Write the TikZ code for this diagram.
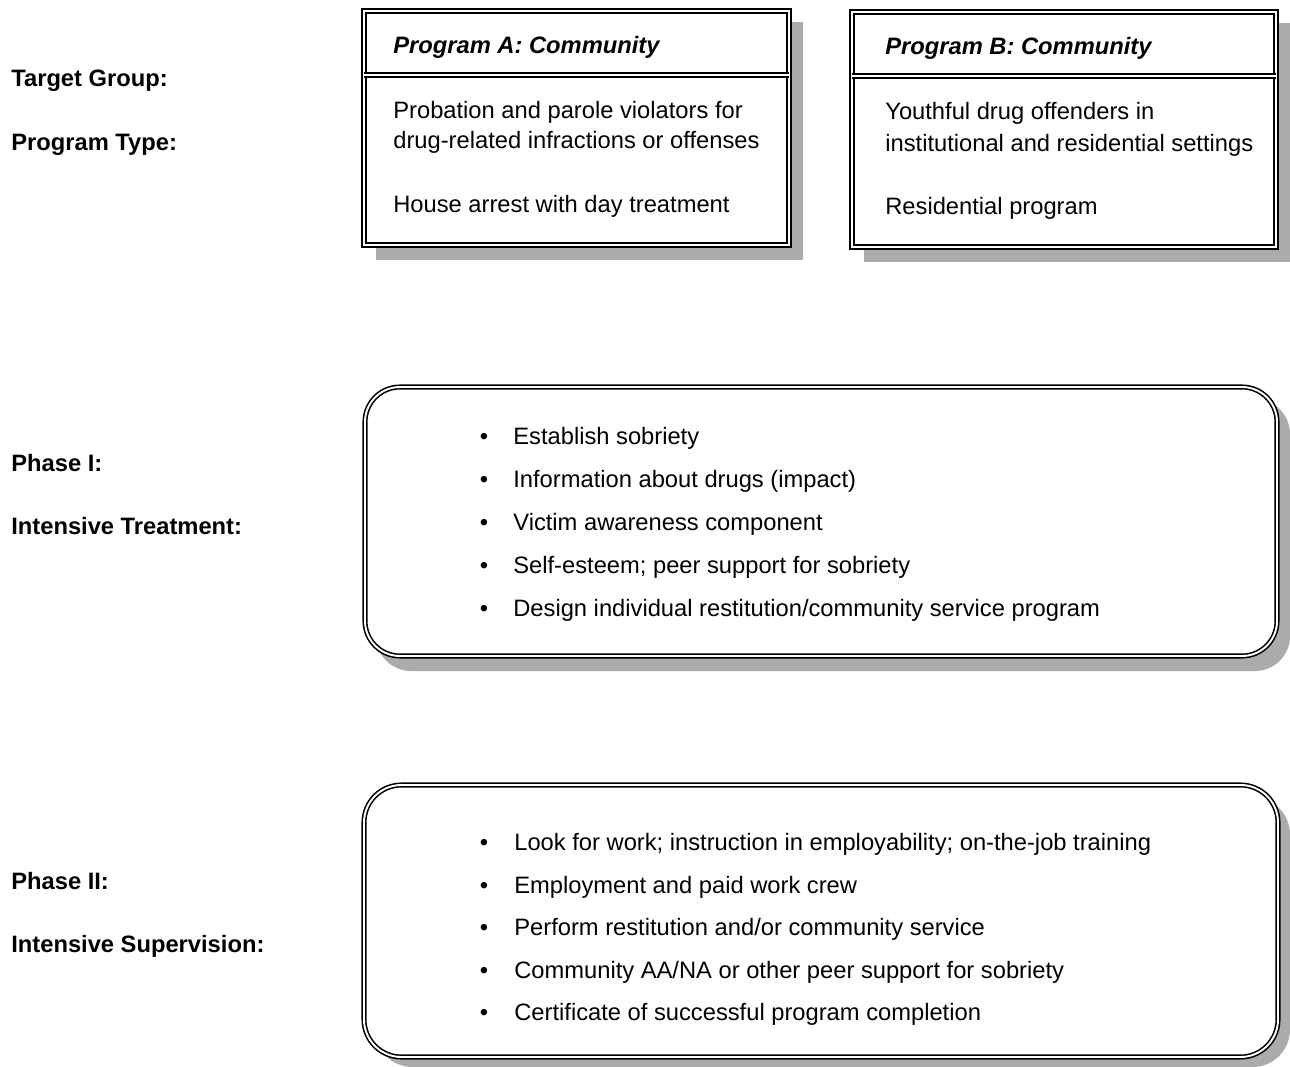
\documentclass[tikz,border=0pt]{standalone}
\usepackage{fontspec}
\setmainfont{Liberation Sans}
\tikzset{
  frame/.style={draw, line width=0.9pt, double=white, double distance=1.1pt},
  shade/.style={fill=black!33},
  txt/.style={anchor=base west, inner sep=0pt, font=\fontsize{13.5}{16}\selectfont},
  lbl/.style={txt, font=\fontsize{13.5}{16}\selectfont\bfseries},
  head/.style={txt, font=\fontsize{13.5}{16}\selectfont\bfseries\itshape},
  dot/.style={anchor=base, inner sep=0pt, font=\fontsize{13.5}{16}\selectfont}
}
\begin{document}
\begin{tikzpicture}[x=0.02cm, y=-0.02cm]
\useasboundingbox (0, 0) rectangle (1290, 1067);

\fill[shade] (376, 22) rectangle (803, 260);
\fill[shade] (864, 23) rectangle (1290, 262);
\fill[shade, rounded corners=0.7cm] (376, 399) rectangle (1290, 671);
\fill[shade, rounded corners=0.75cm] (375, 797) rectangle (1290, 1067);

\draw[frame, fill=white] (364, 11) rectangle (789, 245);
\draw[frame] (364, 75) -- (789, 75);
\draw[frame, fill=white] (852, 12) rectangle (1276, 247);
\draw[frame] (852, 76) -- (1276, 76);
\draw[frame, fill=white, rounded corners=0.7cm] (365, 387) rectangle (1277, 656);
\draw[frame, fill=white, rounded corners=0.75cm] (364, 785) rectangle (1278, 1057);

\node[lbl] (target) at (11, 87) {Target Group:};
\node[lbl] (type) at (11, 151) {Program Type:};
\node[lbl] (phaseI) at (11, 471) {Phase I:};
\node[lbl] (treat) at (11, 534) {Intensive Treatment:};
\node[lbl] (phaseII) at (11, 889) {Phase II:};
\node[lbl] (super) at (11, 952) {Intensive Supervision:};

\node[head] (headA) at (393, 54) {Program A: Community};
\node[txt] (groupA1) at (393, 119) {Probation and parole violators for};
\node[txt] (groupA2) at (393, 149) {drug-related infractions or offenses};
\node[txt] (typeA) at (393, 213) {House arrest with day treatment};

\node[head] (headB) at (885, 55) {Program B: Community};
\node[txt] (groupB1) at (885, 120) {Youthful drug offenders in};
\node[txt] (groupB2) at (885, 152) {institutional and residential settings};
\node[txt] (typeB) at (885, 215) {Residential program};

\node[dot] (dI1) at (484, 444) {\textbullet};
\node[dot] (dI2) at (484, 487) {\textbullet};
\node[dot] (dI3) at (484, 530) {\textbullet};
\node[dot] (dI4) at (484, 573) {\textbullet};
\node[dot] (dI5) at (484, 616) {\textbullet};
\node[txt] (itemI1) at (513, 444) {Establish sobriety};
\node[txt] (itemI2) at (513, 487) {Information about drugs (impact)};
\node[txt] (itemI3) at (513, 530) {Victim awareness component};
\node[txt] (itemI4) at (513, 573) {Self-esteem; peer support for sobriety};
\node[txt] (itemI5) at (513, 616) {Design individual restitution/community service program};

\node[dot] (dII1) at (484, 850) {\textbullet};
\node[dot] (dII2) at (484, 893) {\textbullet};
\node[dot] (dII3) at (484, 935) {\textbullet};
\node[dot] (dII4) at (484, 978) {\textbullet};
\node[dot] (dII5) at (484, 1020) {\textbullet};
\node[txt] (itemII1) at (514, 850) {Look for work; instruction in employability; on-the-job training};
\node[txt] (itemII2) at (514, 893) {Employment and paid work crew};
\node[txt] (itemII3) at (514, 935) {Perform restitution and/or community service};
\node[txt] (itemII4) at (514, 978) {Community AA/NA or other peer support for sobriety};
\node[txt] (itemII5) at (514, 1020) {Certificate of successful program completion};
\end{tikzpicture}
\end{document}
